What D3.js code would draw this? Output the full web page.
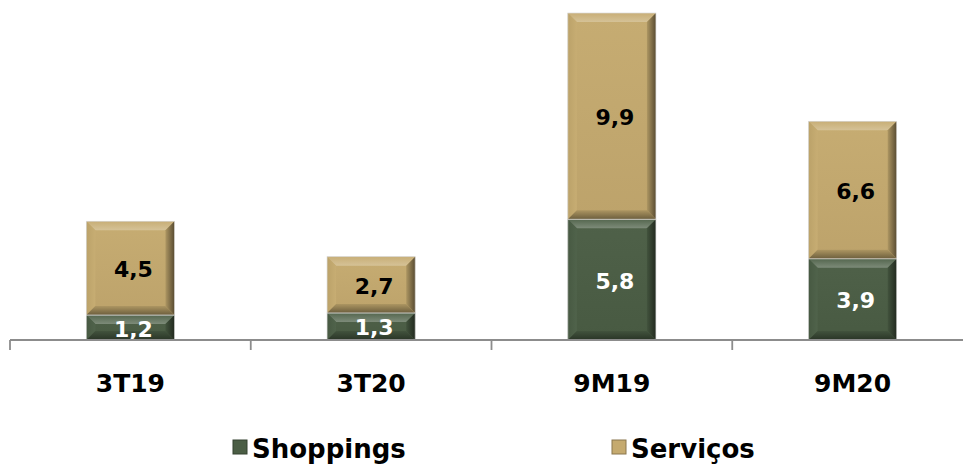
<!DOCTYPE html>
<html><head><meta charset="utf-8">
<script src="https://cdn.jsdelivr.net/npm/d3@7"></script>
<style>body{margin:0;background:#fff}svg{display:block}text{font-family:"DejaVu Sans",sans-serif;font-weight:bold}</style>
</head><body><div id="chart"></div>
<script>
const categories = ["3T19", "3T20", "9M19", "9M20"];
const shoppings = [1.2, 1.3, 5.8, 3.9];
const servicos = [4.5, 2.7, 9.9, 6.6];
const seriesNames = ["Shoppings", "Serviços"];
const seriesColors = ["#4b5e45", "#c5aa6f"];
const labelColors = ["#ffffff", "#000000"];

const W = 963, H = 464;
const svg = d3.select("#chart").append("svg").attr("width", W).attr("height", H);
const defs = svg.append("defs");

const x = d3.scaleBand().domain(categories).range([10, 973]).paddingInner(0.634).paddingOuter(0.317);
const y = d3.scaleLinear().domain([0, 15.7]).range([340, 13]);

const rows = categories.map((c, i) => ({cat: c, Shoppings: shoppings[i], "Serviços": servicos[i]}));
const stack = d3.stack().keys(seriesNames)(rows);

function shade(col, k) { return k > 0 ? d3.interpolateRgb(col, "#ffffff")(k) : d3.interpolateRgb(col, "#000000")(-k); }

function grad(id, dir, c0, c1) {
  const lg = defs.append("linearGradient").attr("id", id)
    .attr("x1", dir === "h" ? 0 : 0).attr("y1", 0)
    .attr("x2", dir === "h" ? 1 : 0).attr("y2", dir === "h" ? 0 : 1);
  lg.append("stop").attr("offset", 0).attr("stop-color", c0);
  lg.append("stop").attr("offset", 1).attr("stop-color", c1);
}
seriesColors.forEach((col, si) => {
  grad("top" + si, "v", shade(col, 0.05), shade(col, 0.28));
  grad("left" + si, "h", shade(col, -0.05), shade(col, 0.03));
  grad("right" + si, "h", shade(col, -0.12), shade(col, -0.55));
  grad("bot" + si, "v", shade(col, -0.12), shade(col, -0.45));
  grad("body" + si, "v", shade(col, 0.02), shade(col, -0.04));
});

const g = svg.append("g");
stack.forEach((layer, si) => {
  layer.forEach((d, i) => {
    const x0 = x(categories[i]), x1 = x0 + x.bandwidth();
    const y0 = y(d[1]), y1 = y(d[0]);
    const b = Math.min(9, (y1 - y0) / 2.6);
    const bg = g.append("g");
    bg.append("rect").attr("x", x0).attr("y", y0).attr("width", x1 - x0).attr("height", y1 - y0)
      .attr("fill", `url(#body${si})`);
    const poly = (pts, fill) => bg.append("polygon").attr("points", pts.map(p => p.join(",")).join(" ")).attr("fill", fill);
    poly([[x0, y0], [x1, y0], [x1 - b, y0 + b], [x0 + b, y0 + b]], `url(#top${si})`);
    poly([[x0, y0], [x0 + b, y0 + b], [x0 + b, y1 - b], [x0, y1]], `url(#left${si})`);
    poly([[x1, y0], [x1, y1], [x1 - b, y1 - b], [x1 - b, y0 + b]], `url(#right${si})`);
    poly([[x0, y1], [x0 + b, y1 - b], [x1 - b, y1 - b], [x1, y1]], `url(#bot${si})`);
    bg.append("rect").attr("x", x0).attr("y", y0).attr("width", x1 - x0).attr("height", y1 - y0)
      .attr("fill", "none").attr("stroke", "#d9d9d9").attr("stroke-width", 0.7);
    const v = si === 0 ? shoppings[i] : servicos[i];
    g.append("text").attr("x", (x0 + x1) / 2 + 3).attr("y", (y0 + y1) / 2 + 3)
      .attr("text-anchor", "middle").attr("dominant-baseline", "middle")
      .attr("font-size", 22).attr("fill", labelColors[si])
      .text(String(v).replace(".", ","));
  });
});

// axis
const axis = d3.axisBottom(x).tickSize(0).tickSizeOuter(0).tickFormat(d => d);
const ax = svg.append("g").attr("transform", "translate(0,340)").call(axis);
ax.select(".domain").remove();
ax.append("line").attr("x1", 10).attr("x2", 963).attr("y1", 0).attr("y2", 0)
  .attr("stroke", "#8c8c8c").attr("stroke-width", 1.8);
ax.selectAll(".tick text").attr("font-size", 25).attr("fill", "#000").attr("dy", 0).attr("y", 52)
  .style("font-family", '"DejaVu Sans",sans-serif').style("font-weight", "bold");
const bounds = categories.map(c => x(c) - x.step() * x.paddingInner() / 2);
ax.selectAll(".sep").data(bounds).enter().append("line").attr("class", "sep")
  .attr("x1", d => d).attr("x2", d => d).attr("y1", 0).attr("y2", 10)
  .attr("stroke", "#8c8c8c").attr("stroke-width", 1.8);

// legend
const legX = [233, 612];
seriesNames.forEach((n, i) => {
  const lg = svg.append("g").attr("transform", `translate(${legX[i]},440)`);
  lg.append("rect").attr("width", 14).attr("height", 14).attr("fill", seriesColors[i]).attr("stroke", shade(seriesColors[i], -0.3));
  lg.append("text").attr("x", 19).attr("y", 18).attr("font-size", 26).attr("fill", "#000").text(n);
});
</script></body></html>
